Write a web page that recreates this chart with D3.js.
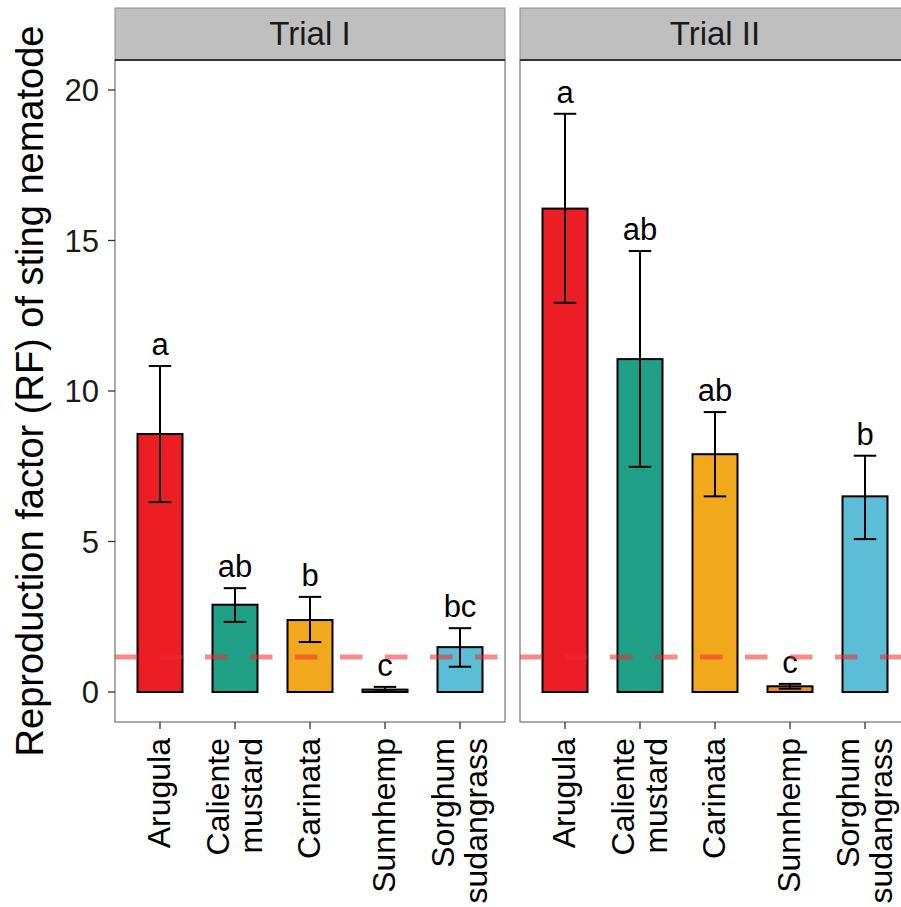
<!DOCTYPE html>
<html>
<head>
<meta charset="utf-8">
<script src="https://cdn.jsdelivr.net/npm/d3@7/dist/d3.min.js"></script>
<style>
  html, body { margin: 0; padding: 0; background: #ffffff; }
  svg { display: block; font-family: "Liberation Sans", Arial, Helvetica, sans-serif; }
</style>
</head>
<body>
<svg id="chart" width="901" height="907"></svg>
<script>
// Cover crops and their tick label lines
const categories = ["Arugula", "Caliente mustard", "Carinata", "Sunnhemp", "Sorghum sudangrass"];
const categoryLines = [["Arugula"], ["Caliente", "mustard"], ["Carinata"], ["Sunnhemp"], ["Sorghum", "sudangrass"]];
const barColors = ["#ed1d24", "#1e9f86", "#f2a81d", "#f28c1c", "#5bbdd6"];

// Facets
const trials = ["Trial I", "Trial II"];

// Mean reproduction factor and error bar limits per trial
const rfTrial1 = [8.57, 2.90, 2.39, 0.08, 1.49];
const lowTrial1 = [6.31, 2.33, 1.66, 0.02, 0.84];
const highTrial1 = [10.83, 3.45, 3.16, 0.17, 2.12];
const lettersTrial1 = ["a", "ab", "b", "c", "bc"];

const rfTrial2 = [16.06, 11.06, 7.90, 0.19, 6.50];
const lowTrial2 = [12.93, 7.48, 6.50, 0.11, 5.08];
const highTrial2 = [19.21, 14.65, 9.30, 0.27, 7.85];
const lettersTrial2 = ["a", "ab", "ab", "c", "b"];

// Initial population reference level
const thresholdRF = 1.16;

const yTicks = [0, 5, 10, 15, 20];

const rows = [
  { trial: trials[0], rf: rfTrial1, low: lowTrial1, high: highTrial1, letters: lettersTrial1 },
  { trial: trials[1], rf: rfTrial2, low: lowTrial2, high: highTrial2, letters: lettersTrial2 }
];

// Layout
const panelTop = 60, panelBottom = 722, stripTop = 8;
const panelW = 390, panelGap = 15, panelLeft0 = 115;
const svg = d3.select("#chart");

const y = d3.scaleLinear().domain([0, 20]).range([692, 90]);
// bars take 0.6 of each category step, with 0.6 step of expansion at both ends
const x = d3.scaleBand().domain(categories).range([0, panelW]).paddingInner(0.4).paddingOuter(0.3);
const fontBase = 32;

// Y axis title
svg.append("text")
  .attr("transform", `translate(43, ${(panelTop + panelBottom) / 2}) rotate(-90)`)
  .attr("text-anchor", "middle")
  .attr("font-size", 38)
  .attr("fill", "#000")
  .text("Reproduction factor (RF) of sting nematode");

rows.forEach((row, pi) => {
  const left = panelLeft0 + pi * (panelW + panelGap);
  const g = svg.append("g").attr("transform", `translate(${left},0)`);

  // strip
  g.append("rect")
    .attr("x", 0).attr("y", stripTop)
    .attr("width", panelW).attr("height", panelTop - stripTop)
    .attr("fill", "#bfbfbf").attr("stroke", "#8c8c8c").attr("stroke-width", 1);
  g.append("text")
    .attr("x", panelW / 2).attr("y", 45)
    .attr("text-anchor", "middle")
    .attr("font-size", 33)
    .attr("fill", "#1a1a1a")
    .text(row.trial);

  // panel background + border
  g.append("rect")
    .attr("x", 0).attr("y", panelTop)
    .attr("width", panelW).attr("height", panelBottom - panelTop)
    .attr("fill", "#ffffff").attr("stroke", "#7f7f7f").attr("stroke-width", 1.3);
  g.append("line")
    .attr("x1", 0).attr("x2", panelW).attr("y1", panelTop).attr("y2", panelTop)
    .attr("stroke", "#333333").attr("stroke-width", 2);

  const data = categories.map((c, i) => ({
    cat: c, rf: row.rf[i], low: row.low[i], high: row.high[i], letter: row.letters[i], color: barColors[i]
  }));

  // bars
  g.selectAll("rect.bar").data(data).enter().append("rect")
    .attr("class", "bar")
    .attr("x", d => x(d.cat))
    .attr("width", x.bandwidth())
    .attr("y", d => y(d.rf))
    .attr("height", d => y(0) - y(d.rf))
    .attr("fill", d => d.color)
    .attr("stroke", "#000").attr("stroke-width", 2);

  // error bars
  const capW = x.bandwidth() * 0.5;
  const cxOf = d => x(d.cat) + x.bandwidth() / 2;
  const eb = g.selectAll("g.eb").data(data).enter().append("g").attr("class", "eb");
  eb.append("line")
    .attr("x1", cxOf).attr("x2", cxOf)
    .attr("y1", d => y(d.low)).attr("y2", d => y(d.high))
    .attr("stroke", "#000").attr("stroke-width", 2);
  eb.append("line")
    .attr("x1", d => cxOf(d) - capW / 2).attr("x2", d => cxOf(d) + capW / 2)
    .attr("y1", d => y(d.high)).attr("y2", d => y(d.high))
    .attr("stroke", "#000").attr("stroke-width", 2);
  eb.append("line")
    .attr("x1", d => cxOf(d) - capW / 2).attr("x2", d => cxOf(d) + capW / 2)
    .attr("y1", d => y(d.low)).attr("y2", d => y(d.low))
    .attr("stroke", "#000").attr("stroke-width", 2);

  // significance letters
  g.selectAll("text.letter").data(data).enter().append("text")
    .attr("class", "letter")
    .attr("x", cxOf)
    .attr("y", d => y(d.high) - 11)
    .attr("text-anchor", "middle")
    .attr("font-size", 31)
    .attr("fill", "#000")
    .text(d => d.letter);

  // reference line
  g.append("line")
    .attr("x1", 0).attr("x2", panelW)
    .attr("y1", y(thresholdRF)).attr("y2", y(thresholdRF))
    .attr("stroke", "#ee2b2b").attr("stroke-opacity", 0.55)
    .attr("stroke-width", 5)
    .attr("stroke-dasharray", "22.5,22.5");

  // x ticks
  g.selectAll("line.xt").data(categories).enter().append("line")
    .attr("x1", d => x(d) + x.bandwidth() / 2).attr("x2", d => x(d) + x.bandwidth() / 2)
    .attr("y1", panelBottom).attr("y2", panelBottom + 7)
    .attr("stroke", "#333").attr("stroke-width", 1.3);

  // x tick labels (rotated)
  categories.forEach((c, i) => {
    const lines = categoryLines[i];
    const cx = x(c) + x.bandwidth() / 2;
    const t = g.append("text")
      .attr("transform", `translate(${cx}, 738) rotate(-90)`)
      .attr("text-anchor", "end")
      .attr("font-size", fontBase)
      .attr("fill", "#000");
    const lh = 33;
    const first = lines.length === 1 ? 10 : 10 - lh / 2;
    lines.forEach((ln, k) => {
      t.append("tspan").attr("x", 0).attr("y", first + k * lh).text(ln);
    });
  });

  // y axis ticks only on first panel
  if (pi === 0) {
    g.selectAll("line.yt").data(yTicks).enter().append("line")
      .attr("x1", -7).attr("x2", 0)
      .attr("y1", d => y(d)).attr("y2", d => y(d))
      .attr("stroke", "#333").attr("stroke-width", 1.3);
    g.selectAll("text.yl").data(yTicks).enter().append("text")
      .attr("x", -16).attr("y", d => y(d) + 11)
      .attr("text-anchor", "end")
      .attr("font-size", 31)
      .attr("fill", "#1a1a1a")
      .text(d => d);
  }
});
</script>
</body>
</html>
